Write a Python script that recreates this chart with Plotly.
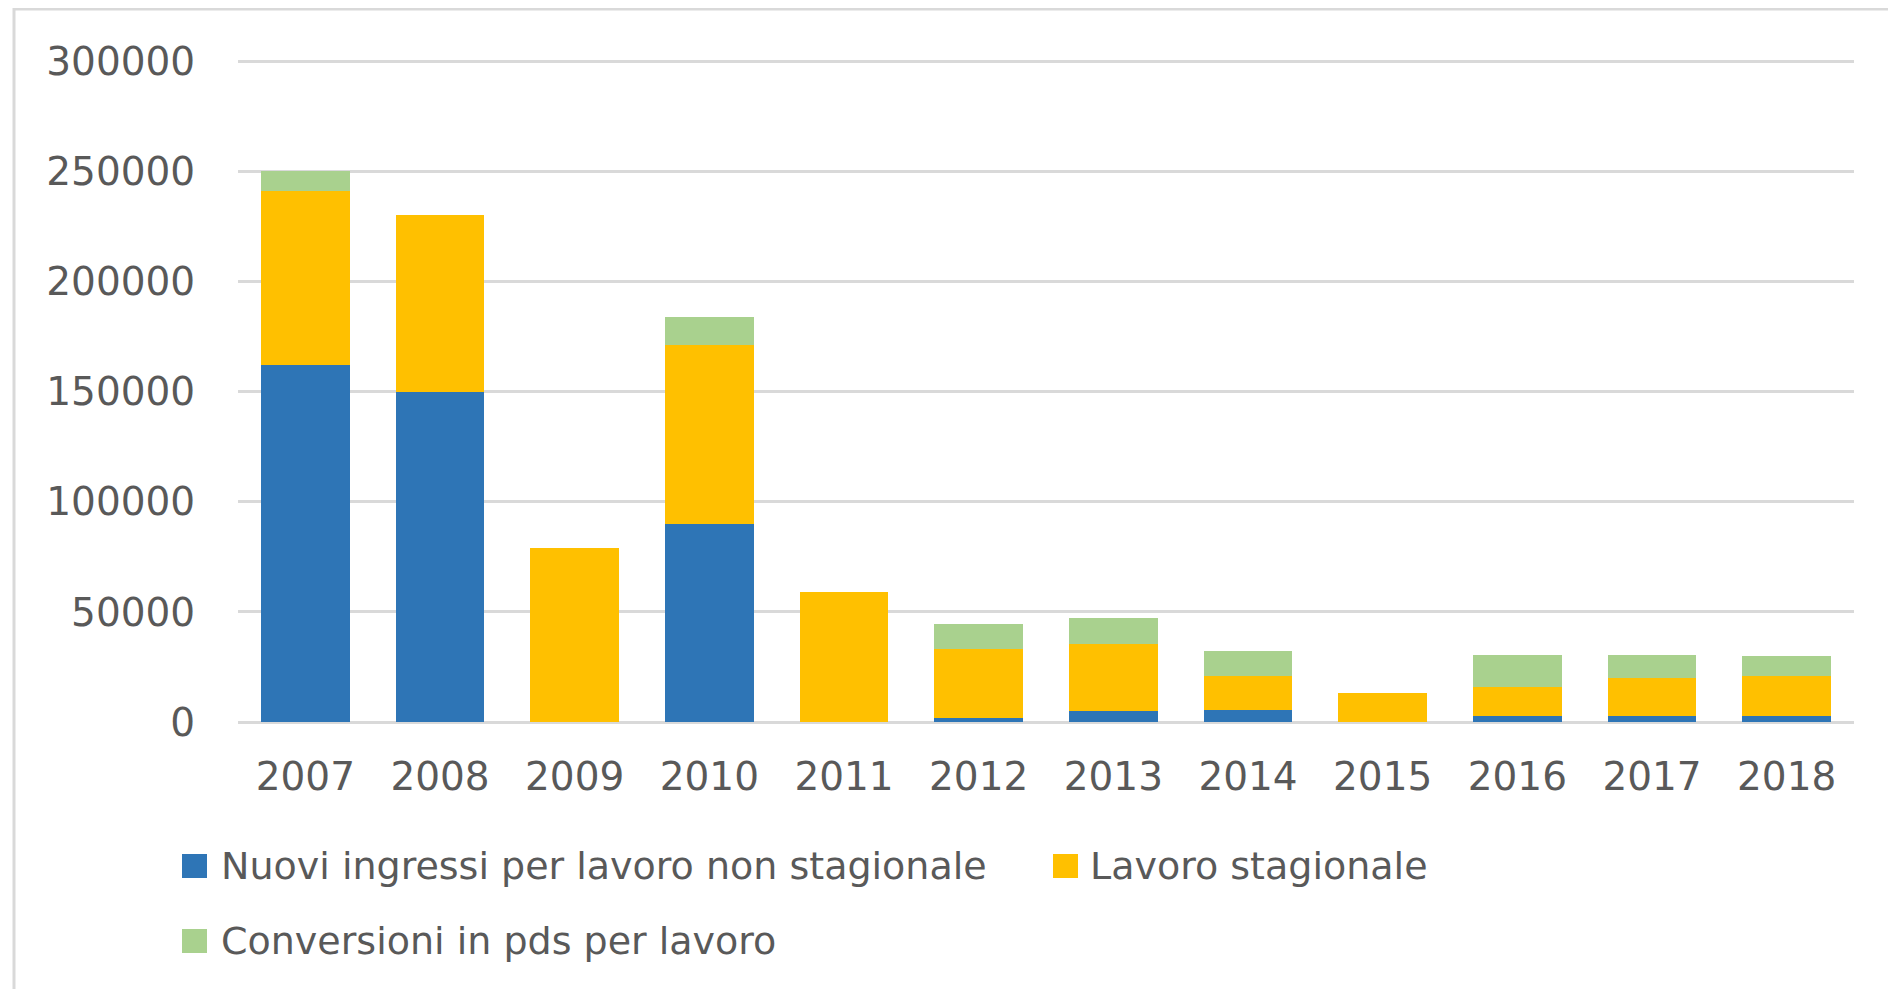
import plotly.graph_objects as go

years = ["2007", "2008", "2009", "2010", "2011", "2012", "2013", "2014", "2015", "2016", "2017", "2018"]
series_names = ["Nuovi ingressi per lavoro non stagionale", "Lavoro stagionale", "Conversioni in pds per lavoro"]
non_stagionale = [162000, 150000, 0, 90000, 0, 1600, 4800, 5600, 0, 2500, 2500, 2500]
stagionale = [79000, 80000, 79000, 81000, 59000, 31600, 30700, 15500, 13000, 13300, 17500, 18500]
conversioni = [9000, 0, 0, 13000, 0, 11300, 11900, 11200, 0, 14400, 10200, 9100]
y_ticks = [0, 50000, 100000, 150000, 200000, 250000, 300000]
colors = ["#2E75B6", "#FFC000", "#A9D18E"]

OFF = 8  # page body margin
W, H = 1880, 981
L, R, T, B = 238 - OFF, 1854 - OFF, 60 - OFF, 722 - OFF
FONT = "DejaVu Sans"
TXT = "#595959"

def px(x):
    return (x - OFF - L) / (R - L)

def py(y):
    return (B - (y - OFF)) / (B - T)

fig = go.Figure()
for name, vals, col in zip(series_names, [non_stagionale, stagionale, conversioni], colors):
    fig.add_trace(go.Bar(x=years, y=vals, name=name, marker=dict(color=col, line=dict(width=0)),
                         showlegend=False))

fig.update_layout(
    barmode="stack",
    bargap=0.34,
    width=W, height=H,
    margin=dict(l=L, r=W - R, t=T, b=H - B, pad=0),
    paper_bgcolor="white", plot_bgcolor="white",
    font=dict(family=FONT, size=38, color=TXT),
    xaxis=dict(type="category", showgrid=False, showline=False, zeroline=False,
               ticks="outside", ticklen=20, tickcolor="rgba(0,0,0,0)",
               tickfont=dict(family=FONT, size=39, color=TXT)),
    yaxis=dict(range=[0, 300600], tickvals=y_ticks, ticktext=[str(v) for v in y_ticks],
               showgrid=True, gridcolor="#d9d9d9", gridwidth=3,
               zeroline=True, zerolinecolor="#d9d9d9", zerolinewidth=3,
               showline=False, ticks="outside", ticklen=34, tickcolor="rgba(0,0,0,0)",
               tickfont=dict(family=FONT, size=39, color=TXT)),
)

shapes = []
# chart area border (cropped on right/bottom)
shapes.append(dict(type="rect", xref="paper", yref="paper",
                   x0=px(14), x1=px(1920), y0=py(1020), y1=py(9),
                   line=dict(color="#d9d9d9", width=3), fillcolor="rgba(0,0,0,0)", layer="below"))

# custom legend
legend_pos = [(182, 866, 221), (1053, 866, 1090), (182, 941, 221)]
annotations = []
for name, col, (sx, cy, tx) in zip(series_names, colors, legend_pos):
    shapes.append(dict(type="rect", xref="paper", yref="paper",
                       x0=px(sx), x1=px(sx + 25), y0=py(cy + 12), y1=py(cy - 12),
                       line=dict(width=0), fillcolor=col))
    annotations.append(dict(xref="paper", yref="paper", x=px(tx - 2), y=py(cy),
                            xanchor="left", yanchor="middle", showarrow=False,
                            text=name, font=dict(family=FONT, size=38, color=TXT)))

fig.update_layout(shapes=shapes, annotations=annotations)
fig.write_html("out.html")
